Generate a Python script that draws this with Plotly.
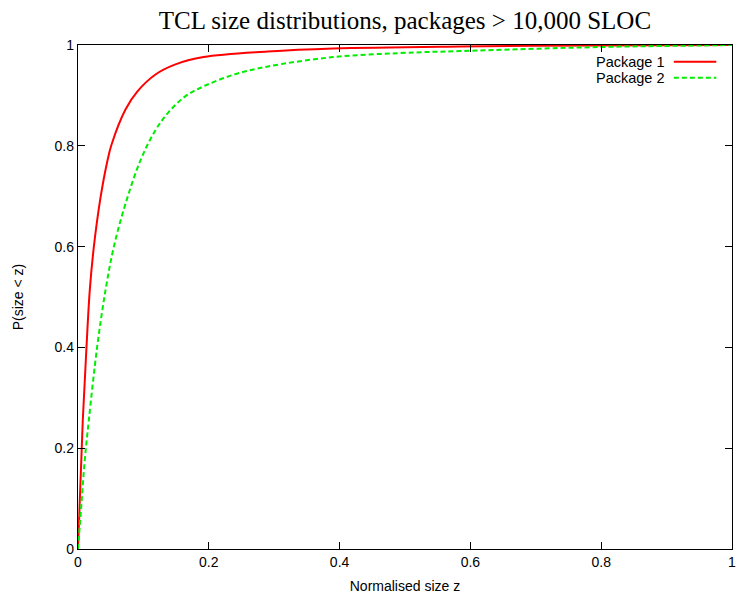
import plotly.graph_objects as go

# Package 1 (red, solid)
pkg1_z = [0.0, 0.0073, 0.013, 0.018, 0.024, 0.0344, 0.0446, 0.0512, 0.0726, 0.0909,
          0.118, 0.148, 0.192, 0.29, 0.390, 0.584, 0.80, 1.0]
pkg1_p = [0.0, 0.255, 0.401, 0.513, 0.597, 0.697, 0.768, 0.802, 0.872, 0.908,
          0.941, 0.961, 0.976, 0.987, 0.993, 0.997, 0.999, 1.0]

# Package 2 (green, dashed)
pkg2_z = [0.0, 0.0049, 0.0099, 0.0165, 0.0293, 0.042, 0.0547, 0.0726, 0.0955,
          0.118, 0.138, 0.164, 0.192, 0.238, 0.289, 0.390, 0.493, 0.584, 0.798, 0.951, 1.0]
pkg2_p = [0.0, 0.083, 0.170, 0.255, 0.401, 0.513, 0.599, 0.685, 0.771,
          0.830, 0.866, 0.898, 0.918, 0.941, 0.957, 0.976, 0.984, 0.988, 0.996, 0.999, 1.0]

tick_vals = [0, 0.2, 0.4, 0.6, 0.8, 1]
tick_text = ["0", "0.2", "0.4", "0.6", "0.8", "1"]

fig = go.Figure()
fig.add_trace(go.Scatter(x=pkg1_z, y=pkg1_p, mode="lines", name="Package 1",
                         line=dict(color="#ff0000", width=2, shape="spline", smoothing=1.0)))
fig.add_trace(go.Scatter(x=pkg2_z, y=pkg2_p, mode="lines", name="Package 2",
                         line=dict(color="#00ee00", width=2, dash="5px,3px", shape="spline", smoothing=1.0)))

axis_common = dict(range=[0, 1], tickvals=tick_vals, ticktext=tick_text,
                   ticks="inside", ticklen=7, tickwidth=1, tickcolor="black",
                   showline=True, linecolor="black", linewidth=1.3, mirror="ticks",
                   showgrid=False, zeroline=False,
                   tickfont=dict(family="Liberation Sans", size=14, color="black"))

fig.update_xaxes(**axis_common, ticklabelstandoff=0,
                 title=dict(text="Normalised size z", standoff=12,
                            font=dict(family="Liberation Sans", size=14, color="black")))
fig.update_yaxes(**axis_common, ticklabelstandoff=0,
                 title=dict(text="P(size < z)", standoff=27,
                            font=dict(family="Liberation Sans", size=14, color="black")))

# Legend drawn gnuplot-style (text right-aligned, sample to the right)
legend_items = [("Package 1", "#ff0000", "solid", 0.967), ("Package 2", "#00ee00", "5px,3px", 0.935)]
for label, color, dash, yy in legend_items:
    fig.add_annotation(x=0.897, y=yy, xref="paper", yref="paper", text=label, showarrow=False,
                       xanchor="right", yanchor="middle", xshift=2,
                       font=dict(family="Liberation Sans", size=14.5, color="black"))
    fig.add_shape(type="line", xref="paper", yref="paper", x0=0.911, x1=0.976, y0=yy, y1=yy,
                  line=dict(color=color, width=2, dash=dash))

fig.update_layout(
    width=739, height=605,
    margin=dict(l=78, r=7, t=45, b=56, autoexpand=False),
    paper_bgcolor="white", plot_bgcolor="white",
    showlegend=False,
    title=dict(text="TCL size distributions, packages > 10,000 SLOC", x=0.548, xanchor="center",
               y=0.967, yanchor="middle",
               font=dict(family="Liberation Serif", size=25, color="black")),
)

fig.write_html("out.html", config={"displayModeBar": False},
               post_script="document.body.style.margin='0';document.body.style.overflow='hidden';")
